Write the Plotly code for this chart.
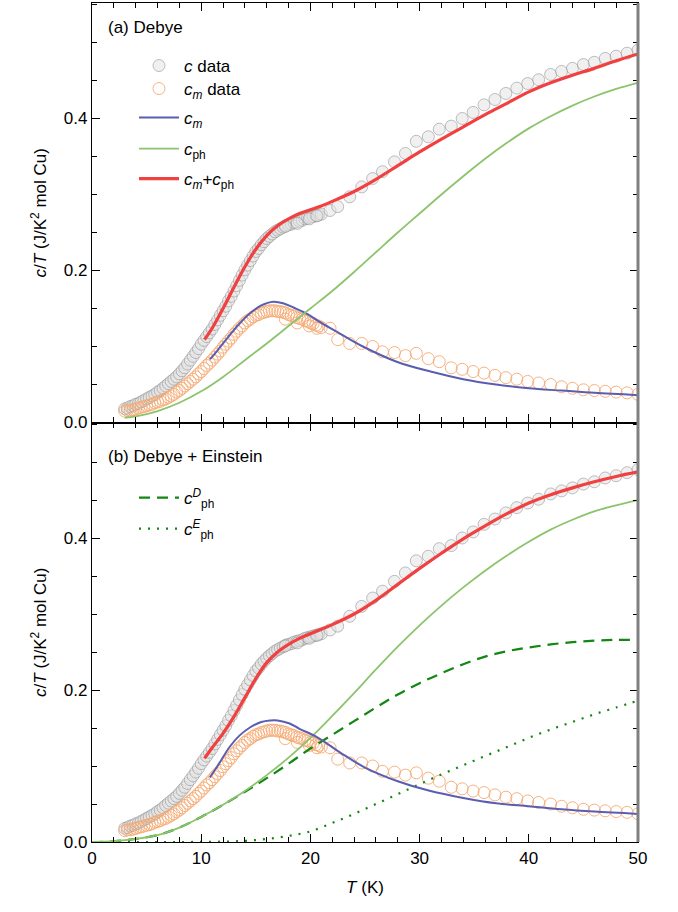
import plotly.graph_objects as go

# ---------------- data ----------------
# c data (total specific heat / T), dense low-T part (step 0.25 K)
T_dense = [3.00 + 0.25 * i for i in range(73)]
c_dense = [0.018, 0.019, 0.021, 0.022, 0.024, 0.025, 0.027, 0.029, 0.031, 0.033,
           0.035, 0.037, 0.040, 0.042, 0.045, 0.048, 0.051, 0.054, 0.057, 0.060,
           0.064, 0.068, 0.072, 0.077, 0.082, 0.087, 0.092, 0.097, 0.103, 0.108,
           0.113, 0.118, 0.123, 0.129, 0.135, 0.141, 0.147, 0.153, 0.160, 0.166,
           0.173, 0.180, 0.187, 0.194, 0.201, 0.207, 0.213, 0.219, 0.225, 0.229,
           0.234, 0.238, 0.242, 0.245, 0.248, 0.251, 0.253, 0.255, 0.257, 0.259,
           0.260, 0.261, 0.263, 0.264, 0.265, 0.266, 0.268, 0.269, 0.270, 0.271,
           0.272, 0.273, 0.274]
cm_dense = [0.015, 0.016, 0.016, 0.017, 0.018, 0.019, 0.020, 0.021, 0.022, 0.023,
            0.024, 0.026, 0.027, 0.028, 0.030, 0.031, 0.033, 0.035, 0.037, 0.040,
            0.042, 0.045, 0.048, 0.051, 0.054, 0.057, 0.060, 0.064, 0.067, 0.071,
            0.075, 0.078, 0.082, 0.086, 0.090, 0.094, 0.099, 0.103, 0.107, 0.111,
            0.116, 0.120, 0.124, 0.127, 0.131, 0.134, 0.136, 0.139, 0.141, 0.142,
            0.144, 0.145, 0.146, 0.147, 0.147, 0.147, 0.146, 0.146, 0.145, 0.144,
            0.142, 0.141, 0.140, 0.138, 0.137, 0.136, 0.134, 0.133, 0.131, 0.130,
            0.128, 0.127, 0.125]

# sparse high-T part
T_sparse = [17.7, 18.8, 19.9, 20.6, 21.8, 22.5, 23.6, 24.7, 25.7, 26.6, 27.7, 28.7,
            29.7, 30.8, 31.8, 32.9, 33.9, 34.9, 35.9, 36.9, 37.9, 38.9, 39.9, 40.9,
            42.0, 43.0, 44.0, 45.0, 46.0, 47.0, 48.0, 49.0, 50.0]
c_sparse = [0.258, 0.262, 0.268, 0.272, 0.279, 0.284, 0.297, 0.310, 0.321, 0.330,
            0.343, 0.354, 0.370, 0.376, 0.386, 0.390, 0.400, 0.408, 0.418, 0.425,
            0.433, 0.440, 0.446, 0.451, 0.458, 0.462, 0.466, 0.471, 0.474, 0.479,
            0.482, 0.486, 0.490]
cm_sparse = [0.136, 0.131, 0.127, 0.124, 0.124, 0.109, 0.104, 0.104, 0.100, 0.093,
             0.092, 0.088, 0.091, 0.084, 0.080, 0.072, 0.070, 0.067, 0.065, 0.062,
             0.059, 0.057, 0.054, 0.052, 0.050, 0.047, 0.045, 0.043, 0.042, 0.041,
             0.040, 0.039, 0.037]

# ---- panel (a) Debye fits ----
Ta_sum = [10.3, 11, 12, 13, 14, 15, 16, 17, 18, 19, 20, 21, 22, 24, 26, 28, 30,
          32, 34, 36, 38, 40, 42, 44, 46, 48, 50]
a_sum = [0.109, 0.124, 0.150, 0.178, 0.205, 0.228, 0.246, 0.259, 0.268, 0.275,
         0.280, 0.285, 0.291, 0.304, 0.320, 0.338, 0.356, 0.373, 0.389, 0.405,
         0.420, 0.435, 0.447, 0.457, 0.466, 0.476, 0.485]
Ta_cm = [10.8, 11.5, 12.5, 13.5, 14.5, 15.5, 16.6, 17.5, 18.5, 19.7, 21, 22.7,
         24.8, 27.9, 31, 34, 37, 40, 43, 46, 50]
a_cm = [0.083, 0.095, 0.113, 0.130, 0.144, 0.154, 0.159, 0.157, 0.151, 0.143,
        0.131, 0.117, 0.100, 0.080, 0.067, 0.057, 0.050, 0.045, 0.042, 0.039, 0.036]
Ta_ph = [3, 4, 5, 6, 8, 10, 12, 14, 16, 18, 20, 22, 24, 26, 28, 30, 32, 34, 36,
         38, 40, 42, 44, 46, 48, 50]
a_ph = [0.006, 0.008, 0.011, 0.015, 0.026, 0.041, 0.060, 0.082, 0.104, 0.127,
        0.150, 0.173, 0.198, 0.224, 0.250, 0.275, 0.300, 0.324, 0.347, 0.368,
        0.387, 0.403, 0.417, 0.429, 0.439, 0.447]

# ---- panel (b) Debye + Einstein fits ----
Tb_sum = [10.3, 11, 12, 13, 14, 15, 16, 17, 18, 19, 20, 21, 22, 24, 26, 28, 30,
          32, 34, 36, 38, 40, 42, 44, 46, 48, 50]
b_sum = [0.110, 0.124, 0.143, 0.165, 0.190, 0.215, 0.236, 0.250, 0.260, 0.268,
         0.274, 0.280, 0.286, 0.300, 0.318, 0.339, 0.360, 0.380, 0.399, 0.416,
         0.432, 0.446, 0.457, 0.466, 0.474, 0.481, 0.487]
Tb_cm = [10.8, 11.5, 12.6, 13.5, 14.5, 15.5, 16.3, 17, 18.1, 19, 20.6, 22.7, 25,
         28, 31, 34, 37, 40, 43, 46, 50]
b_cm = [0.085, 0.100, 0.125, 0.140, 0.151, 0.158, 0.160, 0.160, 0.156, 0.149,
        0.138, 0.118, 0.098, 0.080, 0.067, 0.058, 0.051, 0.047, 0.043, 0.040, 0.037]
Tb = [0, 2, 4, 6, 8, 10, 12, 14, 16, 18, 20, 22, 24, 26, 28, 30, 32, 34, 36, 38,
      40, 42, 44, 46, 48, 50]
b_ph = [0.000, 0.001, 0.004, 0.009, 0.019, 0.033, 0.049, 0.067, 0.088, 0.111,
        0.137, 0.166, 0.196, 0.227, 0.257, 0.285, 0.311, 0.335, 0.357, 0.377,
        0.395, 0.411, 0.424, 0.435, 0.443, 0.450]
b_phD = [0.000, 0.001, 0.004, 0.009, 0.019, 0.033, 0.049, 0.066, 0.084, 0.103,
         0.123, 0.141, 0.159, 0.177, 0.194, 0.209, 0.222, 0.234, 0.244, 0.251,
         0.256, 0.260, 0.263, 0.265, 0.266, 0.266]
b_phE = [0.000, 0.000, 0.000, 0.000, 0.000, 0.0001, 0.0005, 0.0015, 0.004, 0.008,
         0.014, 0.025, 0.037, 0.050, 0.063, 0.076, 0.089, 0.101, 0.113, 0.125,
         0.137, 0.148, 0.158, 0.168, 0.177, 0.186]

# ---------------- style ----------------
FONT = "Liberation Sans, Arial, sans-serif"
GREY_FILL = "rgba(228,228,228,0.55)"
GREY_LINE = "rgba(140,140,140,0.55)"
ORANGE = "rgba(245,170,115,0.9)"
RED = "#f23f3f"
BLUE = "#5a5eb0"
LGREEN = "#8cc46c"
DGREEN = "#138613"
MS = 12

fig = go.Figure()

def data_traces(xa, ya, show, lg1, lg2):
    fig.add_trace(go.Scatter(x=T_dense + T_sparse, y=c_dense + c_sparse, mode="markers",
                             xaxis=xa, yaxis=ya, name="<i>c</i> data", showlegend=show,
                             legend=lg1,
                             marker=dict(size=MS, color=GREY_FILL,
                                         line=dict(color=GREY_LINE, width=1))))
    fig.add_trace(go.Scatter(x=T_dense + T_sparse, y=cm_dense + cm_sparse, mode="markers",
                             xaxis=xa, yaxis=ya, name="<i>c<sub>m</sub></i> data",
                             showlegend=show, legend=lg2,
                             marker=dict(size=MS, color="rgba(0,0,0,0)",
                                         line=dict(color=ORANGE, width=1))))

# panel (a) -> top (x2, y2)
data_traces("x2", "y2", True, "legend", "legend2")
fig.add_trace(go.Scatter(x=Ta_cm, y=a_cm, mode="lines", line=dict(color=BLUE, width=2, shape="spline"),
                         xaxis="x2", yaxis="y2", name="<i>c<sub>m</sub></i>", legend="legend3"))
fig.add_trace(go.Scatter(x=Ta_ph, y=a_ph, mode="lines", line=dict(color=LGREEN, width=1.8, shape="spline"),
                         xaxis="x2", yaxis="y2", name="<i>c</i><sub>ph</sub>", legend="legend4"))
fig.add_trace(go.Scatter(x=Ta_sum, y=a_sum, mode="lines", line=dict(color=RED, width=3.2, shape="spline"),
                         xaxis="x2", yaxis="y2", name="<i>c<sub>m</sub></i>+<i>c</i><sub>ph</sub>",
                         legend="legend5"))

# panel (b) -> bottom (x, y)
data_traces("x", "y", False, "legend", "legend2")
fig.add_trace(go.Scatter(x=Tb, y=b_phE, mode="lines", line=dict(color=DGREEN, width=2.2, dash="2px,7px", shape="spline"),
                         xaxis="x", yaxis="y", name="<i>c</i><sup><i>E</i></sup><sub>ph</sub>", legend="legend7"))
fig.add_trace(go.Scatter(x=Tb, y=b_phD, mode="lines", line=dict(color=DGREEN, width=2.2, dash="11px,7px", shape="spline"),
                         xaxis="x", yaxis="y", name="<i>c</i><sup><i>D</i></sup><sub>ph</sub>", legend="legend6"))
fig.add_trace(go.Scatter(x=Tb, y=b_ph, mode="lines", line=dict(color=LGREEN, width=1.8, shape="spline"),
                         xaxis="x", yaxis="y", showlegend=False))
fig.add_trace(go.Scatter(x=Tb_cm, y=b_cm, mode="lines", line=dict(color=BLUE, width=2, shape="spline"),
                         xaxis="x", yaxis="y", showlegend=False))
fig.add_trace(go.Scatter(x=Tb_sum, y=b_sum, mode="lines", line=dict(color=RED, width=3.2, shape="spline"),
                         xaxis="x", yaxis="y", showlegend=False))

# ---------------- layout ----------------
W, H = 678, 912
ML, MR, MT, MB = 92, 40, 3, 70
PW, PH = W - ML - MR, H - MT - MB
split = 0.5

def px_to_paper(px, py):
    return (px - ML) / PW, (H - MB - py) / PH

axis_common = dict(color="black", linecolor="black", linewidth=1.3, showgrid=False,
                   zeroline=False, ticks="inside", ticklen=8, tickwidth=1.2,
                   tickcolor="black", mirror="ticks",
                   tickfont=dict(family=FONT, size=17, color="black"))

xcommon = dict(axis_common, range=[0, 50], dtick=10, tick0=0,
               minor=dict(dtick=2, ticklen=5, tickwidth=1, ticks="inside", tickcolor="black"))
ycommon = dict(axis_common, range=[0, 0.552], dtick=0.2, tick0=0, tickformat=".1f",
               minor=dict(dtick=0.05, ticklen=5, tickwidth=1, ticks="inside", tickcolor="black"))

ytitle = dict(text="<i>c</i>/<i>T</i> (J/K<sup>2</sup> mol Cu)",
              font=dict(family=FONT, size=17, color="black"), standoff=12)

leg_base = dict(font=dict(family=FONT, size=17, color="black"), bgcolor="rgba(0,0,0,0)",
                borderwidth=0, xanchor="left", yanchor="middle", itemwidth=40,
                itemclick=False, itemdoubleclick=False)

def leg(px, py):
    x, y = px_to_paper(px, py)
    return dict(leg_base, x=x, y=y)

LX = 134
fig.update_layout(
    width=W, height=H,
    margin=dict(l=ML, r=MR, t=MT, b=MB, pad=0),
    plot_bgcolor="white", paper_bgcolor="white",
    font=dict(family=FONT, size=17, color="black"),
    xaxis=dict(xcommon, anchor="y", domain=[0, 1],
               title=dict(text="<i>T</i> (K)", font=dict(family=FONT, size=17, color="black"), standoff=14)),
    yaxis=dict(ycommon, anchor="x", domain=[0, split], title=ytitle),
    xaxis2=dict(xcommon, anchor="y2", domain=[0, 1], showticklabels=False, matches="x"),
    yaxis2=dict(ycommon, anchor="x2", domain=[split, 1], title=ytitle),
    legend=leg(LX, 66),
    legend2=leg(LX, 89),
    legend3=leg(LX, 118),
    legend4=leg(LX, 149),
    legend5=leg(LX, 179),
    legend6=leg(LX, 498),
    legend7=leg(LX, 529),
    shapes=[dict(type="line", xref="paper", yref="paper", x0=1, x1=1, y0=0, y1=1,
                 line=dict(color="#808080", width=3), layer="above")],
    annotations=[
        dict(text="(a) Debye", xref="paper", yref="paper",
             x=px_to_paper(106, 28)[0], y=px_to_paper(106, 28)[1],
             xanchor="left", yanchor="middle", showarrow=False,
             font=dict(family=FONT, size=17, color="black")),
        dict(text="(b) Debye + Einstein", xref="paper", yref="paper",
             x=px_to_paper(106, 456)[0], y=px_to_paper(106, 456)[1],
             xanchor="left", yanchor="middle", showarrow=False,
             font=dict(family=FONT, size=17, color="black")),
    ],
)

fig.write_html("out.html")
